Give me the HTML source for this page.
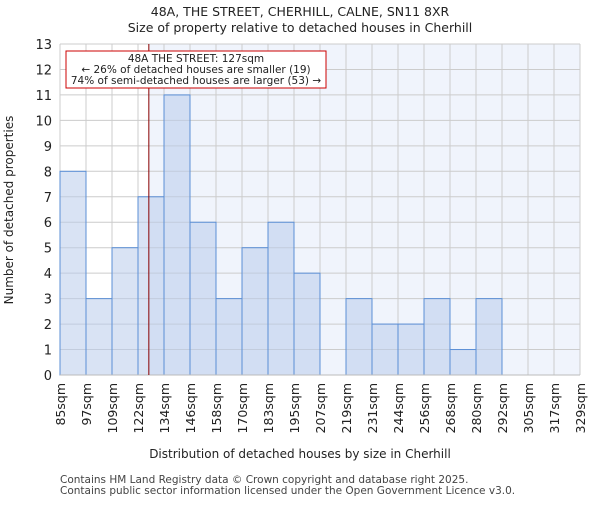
<!DOCTYPE html>
<html><head><meta charset="utf-8"><style>body{margin:0;background:#fff}svg{font-family:"DejaVu Sans","Liberation Sans",sans-serif}</style></head>
<body>
<svg id="c" width="600" height="500">
<text x="300" y="16" font-size="12.5" text-anchor="middle" fill="#222">48A, THE STREET, CHERHILL, CALNE, SN11 8XR</text>
<text x="300" y="32" font-size="12.5" text-anchor="middle" fill="#222">Size of property relative to detached houses in Cherhill</text>
<g id="plot"></g>
<text x="300" y="458" font-size="12" text-anchor="middle" fill="#222">Distribution of detached houses by size in Cherhill</text>
<text transform="translate(13,210) rotate(-90)" font-size="12" text-anchor="middle" fill="#222">Number of detached properties</text>
<text x="60" y="483" font-size="10.5" fill="#444">Contains HM Land Registry data © Crown copyright and database right 2025.</text>
<text x="60" y="494" font-size="10.5" fill="#444">Contains public sector information licensed under the Open Government Licence v3.0.</text>
</svg>
<script>
const binLabels=["85sqm","97sqm","109sqm","122sqm","134sqm","146sqm","158sqm","170sqm","183sqm","195sqm","207sqm","219sqm","231sqm","244sqm","256sqm","268sqm","280sqm","292sqm","305sqm","317sqm","329sqm"];
const binEdges=[85,97,109,122,134,146,158,170,183,195,207,219,231,244,256,268,280,292,305,317,329];
const counts=[8,3,5,7,11,6,3,5,6,4,0,3,2,2,3,1,3,0,0,0];
const yTicks=[0,1,2,3,4,5,6,7,8,9,10,11,12,13];
const propertySize=127;
const X0=60,X1=580,Y0=375,Y1=44,NS="http://www.w3.org/2000/svg";
const nb=counts.length;
const xi=i=>X0+(X1-X0)*i/nb;
function xv(v){for(let i=0;i<binEdges.length-1;i++){if(v<=binEdges[i+1])return xi(i)+(v-binEdges[i])/(binEdges[i+1]-binEdges[i])*(xi(i+1)-xi(i));}return X1;}
const y=v=>Y0-(Y0-Y1)*v/13;
const g=document.getElementById('plot');
function mk(t,a){const e=document.createElementNS(NS,t);for(const k in a)e.setAttribute(k,a[k]);g.appendChild(e);return e;}
const lx=xv(propertySize);
let e=mk('rect',{x:lx,y:Y1,width:X1-lx,height:Y0-Y1,fill:'#f0f4fc'});


for(let i=0;i<=nb;i++){e=mk('line',{x1:xi(i),x2:xi(i),y1:Y1,y2:Y0,stroke:'#cccccc'});

}
yTicks.forEach(t=>{e=mk('line',{x1:X0,x2:X1,y1:y(t),y2:y(t),stroke:'#cccccc'});


e=mk('text',{x:X0-8,y:y(t)+5,'font-size':13,'text-anchor':'end',fill:'#222'});e.textContent=t;

});
counts.forEach((c,i)=>{if(!c)return;e=mk('rect',{x:xi(i),y:y(c),width:xi(i+1)-xi(i),height:Y0-y(c),fill:'rgba(185,204,235,0.55)',stroke:'#5b8fd6','stroke-width':1});

});
binLabels.forEach((l,i)=>{e=mk('text',{transform:`translate(${xi(i)+5},383) rotate(-90)`,'font-size':12.5,'text-anchor':'end',fill:'#222'});e.textContent=l;

});
e=mk('line',{x1:X0,x2:X1,y1:Y0,y2:Y0,stroke:'#bbb'});


e=mk('line',{x1:lx,x2:lx,y1:Y1,y2:Y0,stroke:'#880000','stroke-width':1});


e=mk('rect',{x:66,y:51,width:260,height:37,fill:'#fff',stroke:'#cc0000','stroke-width':1});


["48A THE STREET: 127sqm","← 26% of detached houses are smaller (19)","74% of semi-detached houses are larger (53) →"].forEach((t,i)=>{e=mk('text',{x:196,y:62+i*11,'font-size':10.5,'text-anchor':'middle',fill:'#222'});e.textContent=t;

});
</script>
</body></html>
